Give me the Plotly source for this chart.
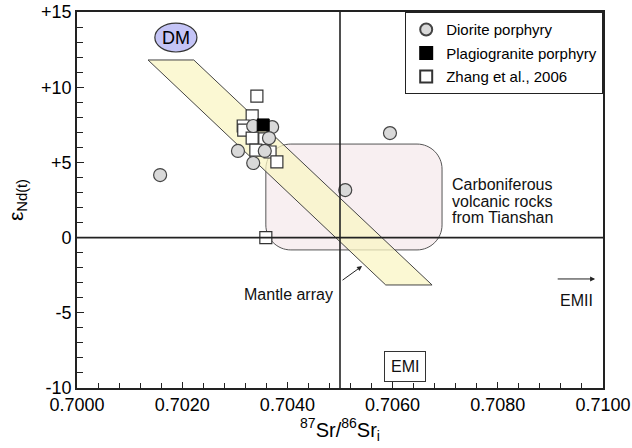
import plotly.graph_objects as go

# ---------------- data ----------------
diorite_x = [0.70335, 0.70371, 0.70365, 0.70306, 0.70357, 0.70335, 0.70158, 0.70510, 0.70595]
diorite_y = [7.42, 7.35, 6.62, 5.76, 5.76, 4.96, 4.16, 3.16, 6.95]

plagio_x = [0.70354]
plagio_y = [7.49]

zhang_x = [0.70342, 0.70333, 0.70316, 0.70317, 0.70333, 0.70357, 0.70340, 0.70367, 0.70380, 0.70359]
zhang_y = [9.41, 8.09, 7.42, 7.15, 6.62, 6.56, 5.82, 5.69, 5.03, 0.0]

# reference fields
mantle_array_x = [0.70135, 0.70222, 0.70675, 0.70587]
mantle_array_y = [11.81, 11.81, -3.15, -3.15]
tianshan_box = dict(x0=0.70359, x1=0.70694, y0=-0.82, y1=6.22)
tianshan_label = ["Carboniferous", "volcanic rocks", "from Tianshan"]
tianshan_label_y = [3.50, 2.43, 1.37]
dm_center = (0.70188, 13.30)
dm_radius = (0.00040, 0.96)
bulk_earth_sr = 0.7050
bulk_earth_nd = 0.0

x_range = [0.7000, 0.7100]
y_range = [-10, 15]
x_ticks = [0.7000, 0.7020, 0.7040, 0.7060, 0.7080, 0.7100]
y_ticks = [-10, -5, 0, 5, 10, 15]
y_tick_text = ["-10", "-5", "0", "+5", "+10", "+15"]

FONT = "Liberation Sans, Arial, sans-serif"
LINE = "#222222"

fig = go.Figure()

fig.add_trace(go.Scatter(
    x=zhang_x, y=zhang_y, mode="markers", name="Zhang et al., 2006",
    marker=dict(symbol="square", size=12, color="white", line=dict(color="#333333", width=1.2)),
    legendrank=3, legendgroup="c"))
fig.add_trace(go.Scatter(
    x=diorite_x, y=diorite_y, mode="markers", name="Diorite porphyry",
    marker=dict(symbol="circle", size=13, color="#d9d9d9", line=dict(color="#444444", width=1.2)),
    legendrank=1, legendgroup="a"))
fig.add_trace(go.Scatter(
    x=plagio_x, y=plagio_y, mode="markers", name="Plagiogranite porphyry",
    marker=dict(symbol="square", size=12, color="black", line=dict(color="black", width=1)),
    legendrank=2, legendgroup="b"))

shapes = []

# Tianshan rounded rectangle (corner radius ~25 px)
rx = 25 / 52600.0
ry = 25 / 15.04
k = 0.45
b = tianshan_box
path = (f"M{b['x0']+rx},{b['y1']} L{b['x1']-rx},{b['y1']} "
        f"C{b['x1']-rx*k},{b['y1']} {b['x1']},{b['y1']-ry*k} {b['x1']},{b['y1']-ry} "
        f"L{b['x1']},{b['y0']+ry} "
        f"C{b['x1']},{b['y0']+ry*k} {b['x1']-rx*k},{b['y0']} {b['x1']-rx},{b['y0']} "
        f"L{b['x0']+rx},{b['y0']} "
        f"C{b['x0']+rx*k},{b['y0']} {b['x0']},{b['y0']+ry*k} {b['x0']},{b['y0']+ry} "
        f"L{b['x0']},{b['y1']-ry} "
        f"C{b['x0']},{b['y1']-ry*k} {b['x0']+rx*k},{b['y1']} {b['x0']+rx},{b['y1']} Z")
shapes.append(dict(type="path", path=path, xref="x", yref="y", layer="below",
                   fillcolor="rgba(244,228,232,0.6)", line=dict(color="#555555", width=1)))

# Mantle array parallelogram
mpath = "M" + " L".join(f"{x},{y}" for x, y in zip(mantle_array_x, mantle_array_y)) + " Z"
shapes.append(dict(type="path", path=mpath, xref="x", yref="y", layer="below",
                   fillcolor="rgba(250,246,196,0.75)", line=dict(color="#444444", width=1)))

# Bulk earth lines
shapes.append(dict(type="line", xref="x", yref="paper", x0=bulk_earth_sr, x1=bulk_earth_sr,
                   y0=0, y1=1, line=dict(color=LINE, width=1.6), layer="above"))
shapes.append(dict(type="line", xref="paper", yref="y", x0=0, x1=1,
                   y0=bulk_earth_nd, y1=bulk_earth_nd, line=dict(color=LINE, width=1.6), layer="above"))

# DM ellipse
shapes.append(dict(type="circle", xref="x", yref="y",
                   x0=dm_center[0]-dm_radius[0], x1=dm_center[0]+dm_radius[0],
                   y0=dm_center[1]-dm_radius[1], y1=dm_center[1]+dm_radius[1],
                   fillcolor="#c4c4f6", line=dict(color="#333333", width=1.2), layer="above"))

annotations = [
    dict(x=dm_center[0], y=dm_center[1], xref="x", yref="y", text="DM", showarrow=False,
         font=dict(size=18, color="black", family=FONT)),
    dict(x=0.70542, y=-1.89, ax=0.70502, ay=-2.90, xref="x", yref="y", axref="x", ayref="y",
         text="", showarrow=True, arrowhead=2, arrowsize=1, arrowwidth=1, arrowcolor="#222222"),
    dict(x=0.70490, y=-3.75, xref="x", yref="y", xanchor="right", text="Mantle array",
         showarrow=False, font=dict(size=16, color="#111111", family=FONT)),
    dict(x=0.70985, y=-2.75, ax=0.70911, ay=-2.75, xref="x", yref="y", axref="x", ayref="y",
         text="", showarrow=True, arrowhead=2, arrowsize=1, arrowwidth=1, arrowcolor="#222222"),
    dict(x=0.70950, y=-4.2, xref="x", yref="y", text="EMII", showarrow=False,
         font=dict(size=16, color="#111111", family=FONT)),
    dict(x=0.70624, y=-8.55, xref="x", yref="y", text="EMI", showarrow=False,
         font=dict(size=16, color="#111111", family=FONT),
         bordercolor="#333333", borderwidth=1, borderpad=6, bgcolor="white"),
]
for txt, yy in zip(tianshan_label, tianshan_label_y):
    annotations.append(dict(x=0.70709, y=yy, xref="x", yref="y", xanchor="left",
                            text=txt, showarrow=False,
                            font=dict(size=16, color="#111111", family=FONT)))

fig.update_layout(
    width=632, height=448,
    margin=dict(l=77, r=29, t=12, b=60, autoexpand=False),
    paper_bgcolor="white", plot_bgcolor="white",
    font=dict(family=FONT, color="black", size=15),
    shapes=shapes, annotations=annotations,
    showlegend=True,
    legend=dict(x=1, xanchor="right", y=1, yanchor="top", bgcolor="white",
                bordercolor="#222222", borderwidth=1.2,
                font=dict(size=15, family=FONT, color="black"),
                traceorder="grouped", tracegroupgap=1, itemsizing="constant"),
)

fig.update_xaxes(
    range=x_range, tickvals=x_ticks, tickformat=".4f", automargin=False,
    ticks="inside", ticklen=6, tickwidth=1.2, tickcolor=LINE,
    minor=dict(dtick=0.0004, tick0=0.7, ticks="inside", ticklen=5, tickcolor=LINE, tickwidth=1.2, showgrid=False),
    showline=True, linecolor=LINE, linewidth=1.6, mirror=True,
    showgrid=False, zeroline=False,
    tickfont=dict(size=18, family=FONT, color="black"),
    title=dict(text="<sup>87</sup>Sr/<sup>86</sup>Sr<sub>i</sub>",
               font=dict(size=20, family=FONT, color="black"), standoff=4),
)
fig.update_yaxes(
    range=y_range, tickvals=y_ticks, ticktext=y_tick_text, automargin=False,
    ticks="inside", ticklen=7, tickwidth=1.2, tickcolor=LINE,
    minor=dict(dtick=1, tick0=0, ticks="inside", ticklen=6, tickcolor=LINE, tickwidth=1.2, showgrid=False),
    showline=True, linecolor=LINE, linewidth=1.6, mirror=True,
    showgrid=False, zeroline=False,
    tickfont=dict(size=18, family=FONT, color="black"),
    title=dict(text="ε<sub>Nd(t)</sub>", font=dict(size=21, family=FONT, color="black"), standoff=12),
)

fig.write_html("out.html", config={"displayModeBar": False},
               post_script="document.body.style.margin='0';document.body.style.padding='0';")
